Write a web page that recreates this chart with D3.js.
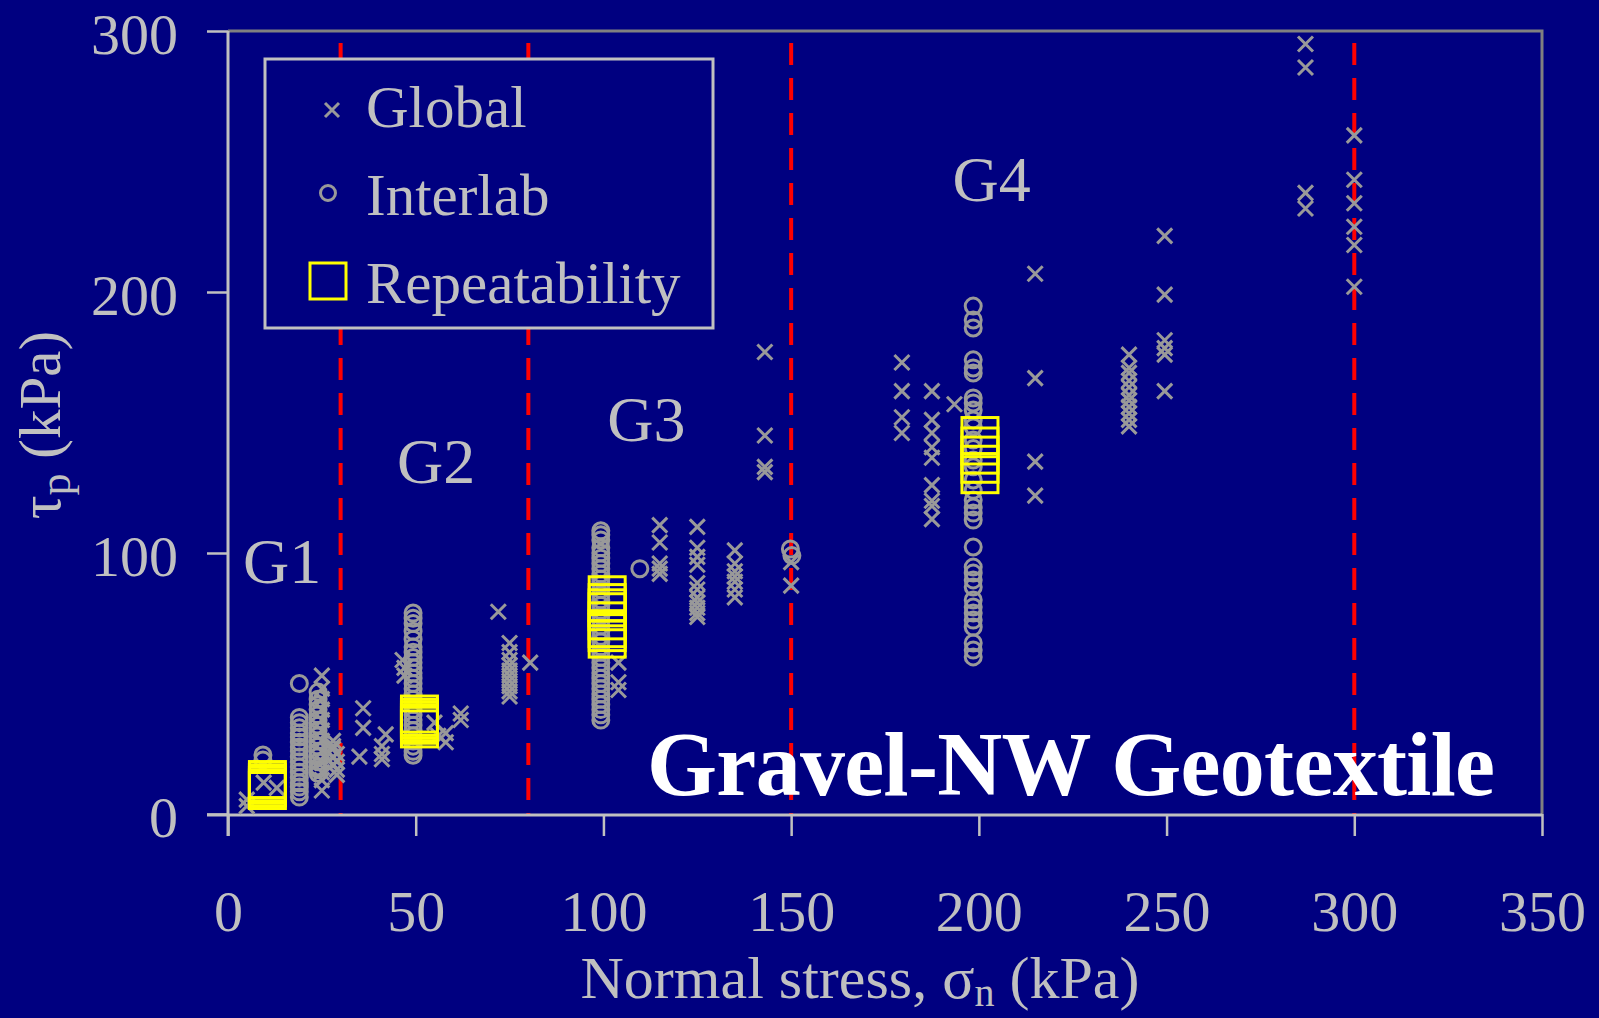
<!DOCTYPE html>
<html>
<head>
<meta charset="utf-8">
<script src="https://cdn.jsdelivr.net/npm/d3@7"></script>
<style>
  html, body { margin: 0; padding: 0; background: #000080; }
  svg { display: block; }
  text { font-family: "Liberation Serif", "Times New Roman", serif; }
</style>
</head>
<body>
<svg id="chart" width="1599" height="1018"></svg>
<script>
// ---------------- data ----------------
const xTicks = [0, 50, 100, 150, 200, 250, 300, 350];
const yTicks = [0, 100, 200, 300];
const groupDividers = [30, 80, 150, 300];
const groupLabels = ["G1", "G2", "G3", "G4"];
const groupLabelAnchors = [[4, 88.5], [45, 127], [101, 143], [193, 235]];
const seriesNames = ["Global", "Interlab", "Repeatability"];

// Global tests (sigma_n, tau_p)
const globalPoints = [
  [5, 3], [5, 5.5], [9.5, 12], [13, 10],
  [25, 53], [25, 48], [25, 44], [25, 40], [25, 36], [25, 32], [25, 28], [25, 24], [25, 20], [25, 16], [25, 13], [25, 9],
  [28, 28], [28, 26], [28, 25], [28, 22], [28, 19], [29, 23], [29, 20], [29, 17], [29, 15],
  [36, 40.5], [36, 33], [35, 22], [42, 30.5], [41, 26], [41, 23], [41, 21],
  [46.5, 59], [47, 56], [47, 53], [55, 35], [56, 30], [58, 31], [58, 27.5], [62, 38.5], [62, 36],
  [72, 77.5], [75, 65.5], [75, 62], [75, 59], [75, 57], [75, 55], [75, 53], [75, 51], [75, 49], [75, 47], [75, 45],
  [80.5, 58],
  [104, 58], [104, 50.5], [104, 47.5],
  [115, 110.7], [115, 104], [115, 96], [115, 94], [115, 92],
  [125, 110], [125, 102], [125, 98.5], [125, 95.5], [125, 88.5], [125, 86], [125, 83], [125, 81], [125, 79], [125, 77], [125, 75.5],
  [135, 101], [135, 96], [135, 93], [135, 91], [135, 89], [135, 86], [135, 83],
  [143, 177], [143, 145], [143, 133], [143, 131],
  [150, 96.5], [150, 87.5],
  [179.5, 173], [179.5, 162], [179.5, 152], [179.5, 146],
  [187.5, 162], [187.5, 151], [187.5, 146], [187.5, 140.5], [187.5, 136.5], [187.5, 126], [187.5, 120], [187.5, 118], [187.5, 113],
  [193.5, 157],
  [215, 207], [215, 167], [215, 135], [215, 122],
  [240, 176], [240, 171], [240, 169], [240, 166], [240, 163.5], [240, 160.5], [240, 158.5], [240, 156], [240, 153.5], [240, 151], [240, 148.5],
  [249.5, 221.5], [249.5, 199], [249.5, 181.5], [249.5, 178.5], [249.5, 176], [249.5, 162],
  [287, 295], [287, 286], [287, 238], [287, 232],
  [300, 260], [300, 243], [300, 234], [300, 225], [300, 218], [300, 202]
];

// Interlaboratory tests
const interlabPoints = [
  [9.3, 22.6], [9.3, 20.7],
  [19, 50], [19, 37], [19, 35], [19, 33], [19, 31], [19, 29.5], [19, 27.5], [19, 25.7], [19, 24], [19, 21.8], [19, 20], [19, 18], [19, 16], [19, 14], [19, 12], [19, 10.3], [19, 8.5], [19, 6.5],
  [24, 46.7], [24, 44], [24, 42], [24, 40], [24, 38], [24, 36], [24, 34], [24, 32], [24, 30], [24, 28], [24, 26], [24, 24], [24, 22], [24, 20], [24, 18], [24, 17], [24, 15.5],
  [49.3, 77], [49.3, 75], [49.3, 73], [49.3, 70], [49.3, 67], [49.3, 64], [49.3, 62], [49.3, 60], [49.3, 58], [49.3, 56], [49.3, 54], [49.3, 52], [49.3, 50], [49.3, 48], [49.3, 46], [49.3, 44], [49.3, 42], [49.3, 40], [49.3, 38], [49.3, 36], [49.3, 34], [49.3, 32], [49.3, 30], [49.3, 28], [49.3, 26], [49.3, 24], [49.3, 22.5],
  [99.3, 108.5], [99.3, 107], [99.3, 105], [99.3, 102], [99.3, 100], [99.3, 98], [99.3, 96], [99.3, 94], [99.3, 92], [99.3, 90], [99.3, 88], [99.3, 86], [99.3, 84], [99.3, 82], [99.3, 80], [99.3, 78], [99.3, 76], [99.3, 74], [99.3, 72], [99.3, 70], [99.3, 68], [99.3, 66], [99.3, 64], [99.3, 62], [99.3, 60], [99.3, 58], [99.3, 56], [99.3, 54], [99.3, 52], [99.3, 50], [99.3, 48], [99.3, 46], [99.3, 44], [99.3, 42], [99.3, 40], [99.3, 38], [99.3, 36],
  [109.7, 94],
  [149.8, 101.5], [150.2, 99],
  [198.5, 194.6], [198.5, 189.3], [198.5, 186.2], [198.5, 174], [198.5, 170.9], [198.5, 169], [198.5, 159.4], [198.5, 157.5], [198.5, 154.8], [198.5, 151], [198.5, 148.3], [198.5, 143.3], [198.5, 140], [198.5, 135.6], [198.5, 133], [198.5, 128], [198.5, 124], [198.5, 120.3], [198.5, 117.6], [198.5, 115.3], [198.5, 112.6], [198.5, 102.3], [198.5, 94.6], [198.5, 92.3], [198.5, 89.7], [198.5, 87], [198.5, 82], [198.5, 79.3], [198.5, 77], [198.5, 74.3], [198.5, 71.6], [198.5, 65.5], [198.5, 62.8], [198.5, 60.2]
];

// Repeatability tests
const repeatPoints = [
  [10.5, 13.2], [10.5, 12], [10.5, 11], [10.5, 10], [10.5, 9],
  [51, 38.3], [51, 37], [51, 36], [51, 35], [51, 34], [51, 32.6],
  [101, 84], [101, 81], [101, 79], [101, 77.5], [101, 74], [101, 71], [101, 69.5], [101, 67],
  [200.3, 145], [200.3, 141], [200.3, 137.5], [200.3, 134], [200.3, 130]
];

// ---------------- drawing ----------------
const BG = "#000080", AXIS = "#c0c0c0", FRAME = "#808080", MARK = "#999999", YEL = "#ffff00", RED = "#ff0000";
const svg = d3.select("#chart");
svg.append("rect").attr("width", 1599).attr("height", 1018).attr("fill", BG);

const x = d3.scaleLinear().domain([0, 350]).range([228, 1542]);
const y = d3.scaleLinear().domain([0, 300]).range([814, 31]);

// frame (top/right)
svg.append("path")
  .attr("d", `M${x(0)},${y(300)}H${x(350)}V${y(0)}`)
  .attr("fill", "none").attr("stroke", FRAME).attr("stroke-width", 3);

// group dividers
svg.append("g").selectAll("line").data(groupDividers).join("line")
  .attr("x1", d => x(d)).attr("x2", d => x(d))
  .attr("y1", 43).attr("y2", y(0))
  .attr("stroke", RED).attr("stroke-width", 4)
  .attr("stroke-dasharray", "22,13");

// axes
const xAxis = svg.append("g").attr("transform", `translate(0,${y(0)})`)
  .call(d3.axisBottom(x).tickValues(xTicks).tickSize(22).tickSizeOuter(0));
xAxis.select(".domain").remove();
xAxis.selectAll(".tick line").attr("stroke", AXIS).attr("stroke-width", 2.5);
xAxis.selectAll(".tick text").attr("y", 117).attr("dy", 0)
  .attr("fill", AXIS).attr("font-size", 58).attr("font-family", "Liberation Serif");

const yAxis = svg.append("g").attr("transform", `translate(${x(0)},0)`)
  .call(d3.axisLeft(y).tickValues(yTicks).tickSize(21).tickSizeOuter(0));
yAxis.select(".domain").remove();
yAxis.selectAll(".tick line").attr("stroke", AXIS).attr("stroke-width", 2.5);
yAxis.selectAll(".tick text").attr("x", -50).attr("dy", "0.38em")
  .attr("fill", AXIS).attr("font-size", 58).attr("font-family", "Liberation Serif");

// axis lines
svg.append("line").attr("x1", x(0)).attr("x2", x(0)).attr("y1", y(300)).attr("y2", y(0) + 22)
  .attr("stroke", AXIS).attr("stroke-width", 3);
svg.append("line").attr("x1", x(0) - 21).attr("x2", x(350)).attr("y1", y(0) + 1).attr("y2", y(0) + 1)
  .attr("stroke", AXIS).attr("stroke-width", 3);

// axis titles
const xt = svg.append("text").attr("x", 860).attr("y", 998).attr("text-anchor", "middle")
  .attr("fill", AXIS).attr("font-size", 60);
xt.append("tspan").text("Normal stress, σ");
xt.append("tspan").attr("dy", 8).attr("font-size", 40).text("n");
xt.append("tspan").attr("dy", -8).text(" (kPa)");

const yt = svg.append("text").attr("transform", "translate(60,425) rotate(-90)")
  .attr("text-anchor", "middle").attr("fill", AXIS).attr("font-size", 59);
yt.append("tspan").text("τ");
yt.append("tspan").attr("dy", 10).attr("font-size", 44).text("p");
yt.append("tspan").attr("dy", -10).text(" (kPa)");

// group labels
svg.append("g").selectAll("text").data(groupLabels).join("text")
  .attr("x", (d, i) => x(groupLabelAnchors[i][0]))
  .attr("y", (d, i) => y(groupLabelAnchors[i][1]))
  .attr("fill", AXIS).attr("font-size", 64).text(d => d);

// markers
const xPath = "M-7.5,-7.5L7.5,7.5M-7.5,7.5L7.5,-7.5";
svg.append("g").selectAll("path").data(globalPoints).join("path")
  .attr("transform", d => `translate(${x(d[0])},${y(d[1])})`)
  .attr("d", xPath).attr("stroke", MARK).attr("stroke-width", 3).attr("fill", "none");

svg.append("g").selectAll("circle").data(interlabPoints).join("circle")
  .attr("cx", d => x(d[0])).attr("cy", d => y(d[1])).attr("r", 8)
  .attr("stroke", MARK).attr("stroke-width", 3).attr("fill", "none");

svg.append("g").selectAll("rect").data(repeatPoints).join("rect")
  .attr("x", d => x(d[0]) - 18).attr("y", d => y(d[1]) - 18)
  .attr("width", 36).attr("height", 36)
  .attr("stroke", YEL).attr("stroke-width", 3).attr("fill", "none");

// title
svg.append("text").attr("x", 647).attr("y", 795)
  .attr("fill", "#ffffff").attr("font-size", 90).attr("font-weight", "bold")
  .attr("textLength", 848).attr("lengthAdjust", "spacing")
  .text("Gravel-NW Geotextile");

// legend
const lg = svg.append("g");
lg.append("rect").attr("x", 265).attr("y", 59).attr("width", 448).attr("height", 269)
  .attr("fill", BG).attr("stroke", AXIS).attr("stroke-width", 3);
const legendY = [110, 193, 281];
const textBase = [127, 215, 303];
lg.append("path").attr("transform", `translate(332,${legendY[0]})`).attr("d", "M-7,-7L7,7M-7,7L7,-7")
  .attr("stroke", MARK).attr("stroke-width", 3).attr("fill", "none");
lg.append("circle").attr("cx", 328).attr("cy", legendY[1]).attr("r", 7.5)
  .attr("stroke", MARK).attr("stroke-width", 3).attr("fill", "none");
lg.append("rect").attr("x", 310).attr("y", legendY[2] - 18).attr("width", 36).attr("height", 36)
  .attr("stroke", YEL).attr("stroke-width", 3).attr("fill", "none");
lg.selectAll("text.lt").data(seriesNames).join("text").attr("class", "lt")
  .attr("x", 366).attr("y", (d, i) => textBase[i])
  .attr("fill", AXIS).attr("font-size", 59).text(d => d);
</script>
</body>
</html>
